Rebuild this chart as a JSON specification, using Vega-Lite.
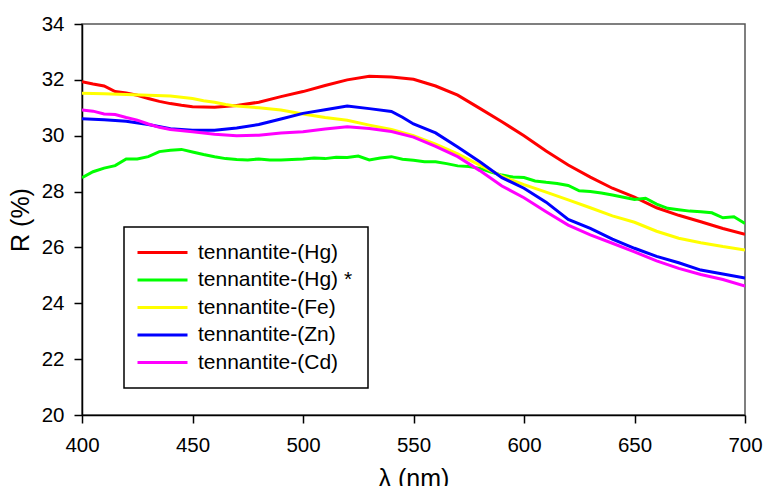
{
  "$schema": "https://vega.github.io/schema/vega-lite/v6.json",
  "width": 663,
  "height": 391,
  "autosize": {"type": "none"},
  "padding": {"left": 82, "top": 24, "right": 19, "bottom": 71},
  "background": "white",
  "config": {
    "view": {"stroke": "#555555", "strokeWidth": 1.5},
    "font": "Liberation Sans"
  },
  "data": {
    "values": [
      {"s": "tennantite-(Hg)", "w": 400, "r": 31.93},
      {"s": "tennantite-(Hg)", "w": 405, "r": 31.85},
      {"s": "tennantite-(Hg)", "w": 410, "r": 31.78},
      {"s": "tennantite-(Hg)", "w": 415, "r": 31.58},
      {"s": "tennantite-(Hg)", "w": 420, "r": 31.53},
      {"s": "tennantite-(Hg)", "w": 425, "r": 31.45},
      {"s": "tennantite-(Hg)", "w": 430, "r": 31.33},
      {"s": "tennantite-(Hg)", "w": 435, "r": 31.23},
      {"s": "tennantite-(Hg)", "w": 440, "r": 31.15},
      {"s": "tennantite-(Hg)", "w": 445, "r": 31.09},
      {"s": "tennantite-(Hg)", "w": 450, "r": 31.04},
      {"s": "tennantite-(Hg)", "w": 460, "r": 31.02},
      {"s": "tennantite-(Hg)", "w": 470, "r": 31.08},
      {"s": "tennantite-(Hg)", "w": 480, "r": 31.2},
      {"s": "tennantite-(Hg)", "w": 490, "r": 31.4},
      {"s": "tennantite-(Hg)", "w": 500, "r": 31.58},
      {"s": "tennantite-(Hg)", "w": 510, "r": 31.8},
      {"s": "tennantite-(Hg)", "w": 520, "r": 32.0},
      {"s": "tennantite-(Hg)", "w": 530, "r": 32.13},
      {"s": "tennantite-(Hg)", "w": 540, "r": 32.1},
      {"s": "tennantite-(Hg)", "w": 550, "r": 32.02},
      {"s": "tennantite-(Hg)", "w": 560, "r": 31.78},
      {"s": "tennantite-(Hg)", "w": 570, "r": 31.45},
      {"s": "tennantite-(Hg)", "w": 580, "r": 30.98},
      {"s": "tennantite-(Hg)", "w": 590, "r": 30.5},
      {"s": "tennantite-(Hg)", "w": 600, "r": 30.0},
      {"s": "tennantite-(Hg)", "w": 610, "r": 29.45},
      {"s": "tennantite-(Hg)", "w": 620, "r": 28.95},
      {"s": "tennantite-(Hg)", "w": 630, "r": 28.52},
      {"s": "tennantite-(Hg)", "w": 640, "r": 28.12},
      {"s": "tennantite-(Hg)", "w": 650, "r": 27.8},
      {"s": "tennantite-(Hg)", "w": 660, "r": 27.42},
      {"s": "tennantite-(Hg)", "w": 670, "r": 27.15},
      {"s": "tennantite-(Hg)", "w": 680, "r": 26.92},
      {"s": "tennantite-(Hg)", "w": 690, "r": 26.68},
      {"s": "tennantite-(Hg)", "w": 700, "r": 26.47},

      {"s": "tennantite-(Hg) *", "w": 400, "r": 28.5},
      {"s": "tennantite-(Hg) *", "w": 405, "r": 28.71},
      {"s": "tennantite-(Hg) *", "w": 410, "r": 28.84},
      {"s": "tennantite-(Hg) *", "w": 415, "r": 28.93},
      {"s": "tennantite-(Hg) *", "w": 420, "r": 29.17},
      {"s": "tennantite-(Hg) *", "w": 425, "r": 29.17},
      {"s": "tennantite-(Hg) *", "w": 430, "r": 29.25},
      {"s": "tennantite-(Hg) *", "w": 435, "r": 29.43},
      {"s": "tennantite-(Hg) *", "w": 440, "r": 29.48},
      {"s": "tennantite-(Hg) *", "w": 445, "r": 29.51},
      {"s": "tennantite-(Hg) *", "w": 450, "r": 29.42},
      {"s": "tennantite-(Hg) *", "w": 455, "r": 29.33},
      {"s": "tennantite-(Hg) *", "w": 460, "r": 29.25},
      {"s": "tennantite-(Hg) *", "w": 465, "r": 29.18},
      {"s": "tennantite-(Hg) *", "w": 470, "r": 29.15},
      {"s": "tennantite-(Hg) *", "w": 475, "r": 29.13},
      {"s": "tennantite-(Hg) *", "w": 480, "r": 29.17},
      {"s": "tennantite-(Hg) *", "w": 485, "r": 29.13},
      {"s": "tennantite-(Hg) *", "w": 490, "r": 29.13},
      {"s": "tennantite-(Hg) *", "w": 495, "r": 29.15},
      {"s": "tennantite-(Hg) *", "w": 500, "r": 29.17},
      {"s": "tennantite-(Hg) *", "w": 505, "r": 29.2},
      {"s": "tennantite-(Hg) *", "w": 510, "r": 29.18},
      {"s": "tennantite-(Hg) *", "w": 515, "r": 29.23},
      {"s": "tennantite-(Hg) *", "w": 520, "r": 29.22},
      {"s": "tennantite-(Hg) *", "w": 525, "r": 29.27},
      {"s": "tennantite-(Hg) *", "w": 530, "r": 29.13},
      {"s": "tennantite-(Hg) *", "w": 535, "r": 29.2},
      {"s": "tennantite-(Hg) *", "w": 540, "r": 29.25},
      {"s": "tennantite-(Hg) *", "w": 545, "r": 29.16},
      {"s": "tennantite-(Hg) *", "w": 550, "r": 29.12},
      {"s": "tennantite-(Hg) *", "w": 555, "r": 29.07},
      {"s": "tennantite-(Hg) *", "w": 560, "r": 29.07},
      {"s": "tennantite-(Hg) *", "w": 565, "r": 29.0},
      {"s": "tennantite-(Hg) *", "w": 570, "r": 28.92},
      {"s": "tennantite-(Hg) *", "w": 575, "r": 28.9},
      {"s": "tennantite-(Hg) *", "w": 580, "r": 28.83},
      {"s": "tennantite-(Hg) *", "w": 585, "r": 28.7},
      {"s": "tennantite-(Hg) *", "w": 590, "r": 28.59},
      {"s": "tennantite-(Hg) *", "w": 595, "r": 28.52},
      {"s": "tennantite-(Hg) *", "w": 600, "r": 28.5},
      {"s": "tennantite-(Hg) *", "w": 605, "r": 28.38},
      {"s": "tennantite-(Hg) *", "w": 610, "r": 28.33},
      {"s": "tennantite-(Hg) *", "w": 615, "r": 28.29},
      {"s": "tennantite-(Hg) *", "w": 620, "r": 28.22},
      {"s": "tennantite-(Hg) *", "w": 625, "r": 28.03},
      {"s": "tennantite-(Hg) *", "w": 630, "r": 28.0},
      {"s": "tennantite-(Hg) *", "w": 635, "r": 27.95},
      {"s": "tennantite-(Hg) *", "w": 640, "r": 27.88},
      {"s": "tennantite-(Hg) *", "w": 645, "r": 27.8},
      {"s": "tennantite-(Hg) *", "w": 650, "r": 27.72},
      {"s": "tennantite-(Hg) *", "w": 655, "r": 27.76},
      {"s": "tennantite-(Hg) *", "w": 660, "r": 27.55},
      {"s": "tennantite-(Hg) *", "w": 665, "r": 27.4},
      {"s": "tennantite-(Hg) *", "w": 670, "r": 27.35},
      {"s": "tennantite-(Hg) *", "w": 675, "r": 27.3},
      {"s": "tennantite-(Hg) *", "w": 680, "r": 27.28},
      {"s": "tennantite-(Hg) *", "w": 685, "r": 27.24},
      {"s": "tennantite-(Hg) *", "w": 690, "r": 27.06},
      {"s": "tennantite-(Hg) *", "w": 695, "r": 27.1},
      {"s": "tennantite-(Hg) *", "w": 700, "r": 26.86},

      {"s": "tennantite-(Fe)", "w": 400, "r": 31.52},
      {"s": "tennantite-(Fe)", "w": 410, "r": 31.5},
      {"s": "tennantite-(Fe)", "w": 420, "r": 31.48},
      {"s": "tennantite-(Fe)", "w": 430, "r": 31.45},
      {"s": "tennantite-(Fe)", "w": 440, "r": 31.42},
      {"s": "tennantite-(Fe)", "w": 450, "r": 31.33},
      {"s": "tennantite-(Fe)", "w": 455, "r": 31.25},
      {"s": "tennantite-(Fe)", "w": 460, "r": 31.2},
      {"s": "tennantite-(Fe)", "w": 465, "r": 31.12},
      {"s": "tennantite-(Fe)", "w": 470, "r": 31.06},
      {"s": "tennantite-(Fe)", "w": 480, "r": 31.0},
      {"s": "tennantite-(Fe)", "w": 490, "r": 30.92},
      {"s": "tennantite-(Fe)", "w": 500, "r": 30.78},
      {"s": "tennantite-(Fe)", "w": 510, "r": 30.65},
      {"s": "tennantite-(Fe)", "w": 520, "r": 30.55},
      {"s": "tennantite-(Fe)", "w": 530, "r": 30.38},
      {"s": "tennantite-(Fe)", "w": 540, "r": 30.22},
      {"s": "tennantite-(Fe)", "w": 550, "r": 30.0},
      {"s": "tennantite-(Fe)", "w": 560, "r": 29.7},
      {"s": "tennantite-(Fe)", "w": 570, "r": 29.35},
      {"s": "tennantite-(Fe)", "w": 580, "r": 28.95},
      {"s": "tennantite-(Fe)", "w": 590, "r": 28.55},
      {"s": "tennantite-(Fe)", "w": 600, "r": 28.25},
      {"s": "tennantite-(Fe)", "w": 610, "r": 27.98},
      {"s": "tennantite-(Fe)", "w": 620, "r": 27.7},
      {"s": "tennantite-(Fe)", "w": 630, "r": 27.42},
      {"s": "tennantite-(Fe)", "w": 640, "r": 27.13},
      {"s": "tennantite-(Fe)", "w": 650, "r": 26.9},
      {"s": "tennantite-(Fe)", "w": 660, "r": 26.58},
      {"s": "tennantite-(Fe)", "w": 670, "r": 26.33},
      {"s": "tennantite-(Fe)", "w": 680, "r": 26.17},
      {"s": "tennantite-(Fe)", "w": 690, "r": 26.03},
      {"s": "tennantite-(Fe)", "w": 700, "r": 25.91},

      {"s": "tennantite-(Zn)", "w": 400, "r": 30.61},
      {"s": "tennantite-(Zn)", "w": 410, "r": 30.57},
      {"s": "tennantite-(Zn)", "w": 420, "r": 30.52},
      {"s": "tennantite-(Zn)", "w": 430, "r": 30.4},
      {"s": "tennantite-(Zn)", "w": 440, "r": 30.25},
      {"s": "tennantite-(Zn)", "w": 450, "r": 30.2},
      {"s": "tennantite-(Zn)", "w": 460, "r": 30.2},
      {"s": "tennantite-(Zn)", "w": 470, "r": 30.28},
      {"s": "tennantite-(Zn)", "w": 480, "r": 30.4},
      {"s": "tennantite-(Zn)", "w": 490, "r": 30.6},
      {"s": "tennantite-(Zn)", "w": 500, "r": 30.8},
      {"s": "tennantite-(Zn)", "w": 510, "r": 30.93},
      {"s": "tennantite-(Zn)", "w": 520, "r": 31.06},
      {"s": "tennantite-(Zn)", "w": 530, "r": 30.97},
      {"s": "tennantite-(Zn)", "w": 540, "r": 30.87},
      {"s": "tennantite-(Zn)", "w": 545, "r": 30.66},
      {"s": "tennantite-(Zn)", "w": 550, "r": 30.42},
      {"s": "tennantite-(Zn)", "w": 560, "r": 30.1},
      {"s": "tennantite-(Zn)", "w": 570, "r": 29.6},
      {"s": "tennantite-(Zn)", "w": 580, "r": 29.07},
      {"s": "tennantite-(Zn)", "w": 590, "r": 28.5},
      {"s": "tennantite-(Zn)", "w": 600, "r": 28.12},
      {"s": "tennantite-(Zn)", "w": 610, "r": 27.62},
      {"s": "tennantite-(Zn)", "w": 620, "r": 27.0},
      {"s": "tennantite-(Zn)", "w": 630, "r": 26.68},
      {"s": "tennantite-(Zn)", "w": 640, "r": 26.3},
      {"s": "tennantite-(Zn)", "w": 650, "r": 25.97},
      {"s": "tennantite-(Zn)", "w": 660, "r": 25.68},
      {"s": "tennantite-(Zn)", "w": 670, "r": 25.45},
      {"s": "tennantite-(Zn)", "w": 680, "r": 25.19},
      {"s": "tennantite-(Zn)", "w": 690, "r": 25.05},
      {"s": "tennantite-(Zn)", "w": 700, "r": 24.9},

      {"s": "tennantite-(Cd)", "w": 400, "r": 30.92},
      {"s": "tennantite-(Cd)", "w": 405, "r": 30.88},
      {"s": "tennantite-(Cd)", "w": 410, "r": 30.78},
      {"s": "tennantite-(Cd)", "w": 415, "r": 30.76},
      {"s": "tennantite-(Cd)", "w": 420, "r": 30.65},
      {"s": "tennantite-(Cd)", "w": 425, "r": 30.56},
      {"s": "tennantite-(Cd)", "w": 430, "r": 30.42},
      {"s": "tennantite-(Cd)", "w": 435, "r": 30.3},
      {"s": "tennantite-(Cd)", "w": 440, "r": 30.22},
      {"s": "tennantite-(Cd)", "w": 450, "r": 30.14},
      {"s": "tennantite-(Cd)", "w": 460, "r": 30.05},
      {"s": "tennantite-(Cd)", "w": 470, "r": 30.0},
      {"s": "tennantite-(Cd)", "w": 480, "r": 30.02},
      {"s": "tennantite-(Cd)", "w": 490, "r": 30.1},
      {"s": "tennantite-(Cd)", "w": 500, "r": 30.14},
      {"s": "tennantite-(Cd)", "w": 510, "r": 30.24},
      {"s": "tennantite-(Cd)", "w": 520, "r": 30.32},
      {"s": "tennantite-(Cd)", "w": 530, "r": 30.26},
      {"s": "tennantite-(Cd)", "w": 540, "r": 30.15},
      {"s": "tennantite-(Cd)", "w": 550, "r": 29.95},
      {"s": "tennantite-(Cd)", "w": 560, "r": 29.62},
      {"s": "tennantite-(Cd)", "w": 570, "r": 29.25},
      {"s": "tennantite-(Cd)", "w": 580, "r": 28.75},
      {"s": "tennantite-(Cd)", "w": 590, "r": 28.2},
      {"s": "tennantite-(Cd)", "w": 600, "r": 27.78},
      {"s": "tennantite-(Cd)", "w": 610, "r": 27.28},
      {"s": "tennantite-(Cd)", "w": 620, "r": 26.8},
      {"s": "tennantite-(Cd)", "w": 630, "r": 26.45},
      {"s": "tennantite-(Cd)", "w": 640, "r": 26.15},
      {"s": "tennantite-(Cd)", "w": 650, "r": 25.84},
      {"s": "tennantite-(Cd)", "w": 660, "r": 25.52},
      {"s": "tennantite-(Cd)", "w": 670, "r": 25.25},
      {"s": "tennantite-(Cd)", "w": 680, "r": 25.03},
      {"s": "tennantite-(Cd)", "w": 690, "r": 24.85},
      {"s": "tennantite-(Cd)", "w": 700, "r": 24.62}
    ]
  },
  "mark": {"type": "line", "strokeWidth": 3, "clip": true},
  "encoding": {
    "x": {
      "field": "w",
      "type": "quantitative",
      "scale": {"domain": [400, 700], "nice": false, "zero": false},
      "axis": {
        "title": "λ (nm)",
        "values": [400, 450, 500, 550, 600, 650, 700],
        "grid": false,
        "domainColor": "black",
        "domainWidth": 1.5,
        "tickColor": "black",
        "tickWidth": 1.5,
        "tickSize": 8,
        "labelFont": "Liberation Sans",
        "labelFontSize": 20.5,
        "labelColor": "black",
        "labelPadding": 12,
        "labelFlush": false,
        "titleFont": "Liberation Sans",
        "titleFontSize": 25,
        "titleFontWeight": "normal",
        "titleColor": "black",
        "titlePadding": 11
      }
    },
    "y": {
      "field": "r",
      "type": "quantitative",
      "scale": {"domain": [20, 34], "nice": false, "zero": false},
      "axis": {
        "title": "R (%)",
        "values": [20, 22, 24, 26, 28, 30, 32, 34],
        "grid": false,
        "domainColor": "black",
        "domainWidth": 1.5,
        "tickColor": "black",
        "tickWidth": 1.5,
        "tickSize": 8,
        "labelFont": "Liberation Sans",
        "labelFontSize": 20.5,
        "labelColor": "black",
        "labelPadding": 10,
        "labelFlush": false,
        "titleFont": "Liberation Sans",
        "titleFontSize": 25,
        "titleFontWeight": "normal",
        "titleColor": "black",
        "titlePadding": 8
      }
    },
    "color": {
      "field": "s",
      "type": "nominal",
      "scale": {
        "domain": ["tennantite-(Hg)", "tennantite-(Hg) *", "tennantite-(Fe)", "tennantite-(Zn)", "tennantite-(Cd)"],
        "range": ["#ff0000", "#00ff00", "#ffff00", "#0000ff", "#ff00ff"]
      },
      "legend": {
        "title": null,
        "orient": "none",
        "legendX": 42,
        "legendY": 203,
        "strokeColor": "black",
        "fillColor": "white",
        "padding": 15,
        "symbolType": "M-2.4,0H7.6",
        "symbolSize": 100,
        "symbolStrokeWidth": 3,
        "labelFont": "Liberation Sans",
        "labelFontSize": 21,
        "labelColor": "black",
        "labelOffset": 38,
        "labelLimit": 400,
        "rowPadding": 5.5,
        "encode": {"legend": {"update": {"strokeWidth": {"value": 1.5}}}}
      }
    }
  }
}
